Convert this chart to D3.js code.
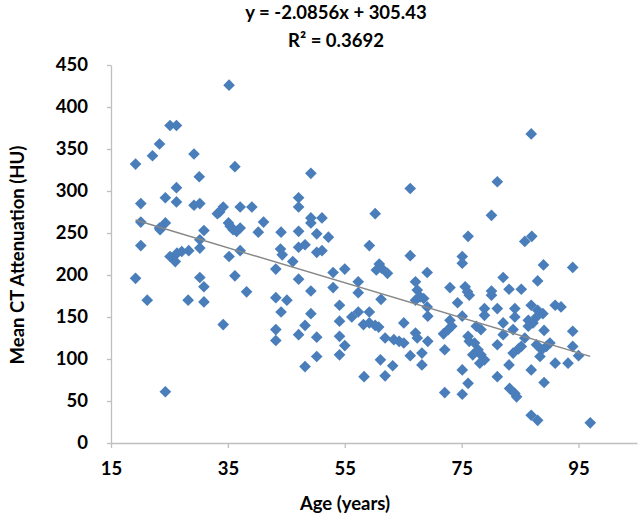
<!DOCTYPE html>
<html><head><meta charset="utf-8">
<script src="https://cdn.jsdelivr.net/npm/d3@7"></script>
<style>body{margin:0;background:#fff}svg{display:block}</style>
</head><body>
<svg id="c" width="640" height="521"></svg>
<script>
const ages = [19.2,20.1,20.1,20.1,19.2,21.2,24.3,22.1,23.3,25.1,26.2,24.3,26.2,26.2,23.3,24.3,23.4,25.1,26.0,26.3,27.1,28.3,28.2,29.2,30.1,29.2,30.2,30.9,30.2,30.2,30.2,30.9,30.9,
35.2,36.2,33.6,34.2,33.2,35.1,35.4,35.9,36.5,37.1,37.1,39.1,41.1,40.2,35.2,37.1,36.2,38.2,34.2,44.1,44.0,44.3,43.2,43.2,45.1,44.1,43.2,43.2,46.1,
49.2,47.1,47.1,49.2,49.2,51.1,47.1,50.2,52.2,47.1,48.2,50.2,51.1,47.1,49.2,49.2,48.2,47.1,50.2,50.2,48.2,53.0,55.0,53.0,54.1,54.1,54.1,55.0,54.1,57.3,57.3,56.2,57.3,59.2,60.2,60.4,60.9,61.3,61.2,59.2,58.2,59.2,60.2,60.8,58.3,61.1,61.9,61.9,
66.2,76.1,66.2,75.1,75.1,62.3,69.1,67.1,67.4,67.9,68.5,67.1,73.0,75.6,76.0,76.3,74.3,69.1,69.2,75.1,73.0,73.3,72.7,65.1,71.9,63.4,64.3,65.1,67.1,67.4,69.2,76.1,76.3,72.1,66.2,68.2,68.2,63.2,75.1,76.1,75.1,72.1,76.9,
86.9,81.1,80.1,85.8,87.0,89.0,88.0,82.1,80.1,80.1,83.1,85.2,78.9,78.9,81.1,84.1,84.1,86.9,88.0,88.9,86.4,87.2,86.4,87.8,91.0,92.0,82.1,82.1,83.8,85.8,89.1,77.5,78.3,77.2,77.8,78.3,78.9,78.1,81.1,83.8,84.7,85.2,87.8,88.7,89.5,90.1,88.4,91.0,83.1,81.1,86.9,83.2,84.1,84.4,89.1,86.9,88.0,
94.0,94.0,94.0,95.0,93.2,97.0];
const values = [332,285,263,235,196,170,61,342,356,378,378,292,304,287,256,262,254,222,216,226,228,229,170,344,317,283,285,253,242,232,197,186,168,
426,329,275,281,273,262,258,254,252,256,281,281,263,251,222,229,199,180,141,251,231,224,207,173,170,156,135,122,216,
321,292,281,268,262,268,252,249,245,233,236,227,229,195,181,154,140,129,126,103,91,203,207,185,164,145,127,116,105,192,179,150,156,235,273,206,213,208,171,156,141,143,140,138,79,99,125,80,
303,246,223,222,214,202,203,192,182,174,172,170,185,186,180,176,167,162,151,151,146,139,135,143,130,123,121,119,131,125,121,127,121,111,104,107,93,92,87,71,58,60,105,
368,311,271,240,246,212,193,197,181,176,183,183,160,152,160,160,150,164,158,154,146,143,139,150,164,162,143,129,135,125,134,139,135,119,111,105,99,95,117,107,112,115,117,111,115,119,103,95,93,79,87,65,59,55,72,33,27,
209,133,115,104,95,24];
const xTicks = [15,35,55,75,95];
const yTicks = [0,50,100,150,200,250,300,350,400,450];
const slope = -2.0856, intercept = 305.43;
const titleLines = ["y = -2.0856x + 305.43", "R² = 0.3692"];
const xLabel = "Age (years)";
const yLabel = "Mean CT Attenuation (HU)";

const svg = d3.select("#c");
const font = "Lato, 'Open Sans', sans-serif";
const x = d3.scaleLinear().domain([15,105]).range([111,637]);
const y = d3.scaleLinear().domain([0,450]).range([443,65]);
const axisColor = "#bfbfbf";

// axes
const xa = svg.append("g").attr("transform","translate(0,443)")
  .call(d3.axisBottom(x).tickValues(xTicks).tickSize(5).tickSizeOuter(0).tickPadding(14));
const ya = svg.append("g").attr("transform","translate(111,0)")
  .call(d3.axisLeft(y).tickValues(yTicks).tickSize(4).tickSizeOuter(0).tickPadding(19));
[xa,ya].forEach(g=>{
  g.selectAll("path,line").attr("stroke",axisColor).attr("stroke-width",1.3);
  g.selectAll("text").attr("fill","#000").style("font-family",font).style("font-weight","bold").style("font-size","18.5px");
});

// points
const sym = d3.symbol().type(d3.symbolSquare).size(68);
svg.append("g").selectAll("path").data(ages.map((a,i)=>[a,values[i]])).join("path")
  .attr("d",sym)
  .attr("transform",d=>`translate(${x(d[0])},${y(d[1])}) rotate(45)`)
  .attr("fill","#4a7ebb");

// trend line
const xmin = d3.min(ages), xmax = d3.max(ages);
svg.append("line")
  .attr("x1",x(xmin)).attr("y1",y(slope*xmin+intercept))
  .attr("x2",x(xmax)).attr("y2",y(slope*xmax+intercept))
  .attr("stroke","#878787").attr("stroke-width",1.5);

// titles
svg.selectAll(".t").data(titleLines).join("text")
  .attr("x",336).attr("y",(d,i)=>19+i*28)
  .attr("text-anchor","middle").style("font-family",font).style("font-weight","bold").style("font-size","18.5px")
  .text(d=>d);
svg.append("text").attr("x",345).attr("y",510).attr("text-anchor","middle")
  .style("font-family",font).style("font-weight","bold").style("font-size","18.5px").text(xLabel);
svg.append("text").attr("transform","translate(24,255) rotate(-90)").attr("text-anchor","middle")
  .style("font-family",font).style("font-weight","bold").style("font-size","18.5px").text(yLabel);
</script>
</body></html>
